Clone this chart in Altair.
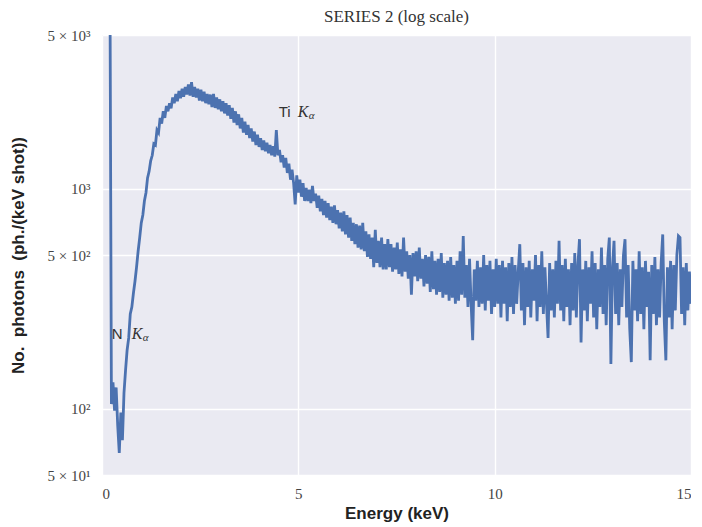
import altair as alt
import pandas as pd

# Spectrum, in 0.04 keV bins; each chunk holds 1 keV (25 bins)
chunk_starts = [0.20, 1.20, 2.20, 3.20, 4.20, 5.20, 6.20, 7.20, 8.20, 9.20, 10.20, 11.20, 12.20, 13.20, 14.20]

chunk_a = [12000, 105, 132, 98, 125, 84, 63, 96, 72, 118, 150, 185, 210, 270, 290,
           335, 380, 440, 520, 600, 700, 760, 880, 960, 1120]
chunk_b = [1200, 1340, 1420, 1600, 1580, 1850, 1800, 2100, 1980, 2250, 2100, 2380, 2250,
           2450, 2320, 2600, 2450, 2700, 2500, 2780, 2580, 2850, 2620, 2900, 2680]
chunk_c = [2980, 2650, 3050, 2620, 2900, 2600, 2850, 2520, 2820, 2500, 2760, 2450, 2700,
           2420, 2680, 2350, 2700, 2330, 2600, 2300, 2550, 2250, 2500, 2200, 2450]
chunk_d = [2150, 2400, 2080, 2330, 2000, 2250, 1950, 2180, 1880, 2100, 1800, 2020, 1760,
           1950, 1700, 1880, 1640, 1820, 1580, 1760, 1550, 1700, 1500, 1660, 1480]
chunk_e = [1620, 1450, 1580, 1420, 1560, 1400, 1850, 1420, 1500, 1320, 1420, 1250, 1380,
           1180, 1300, 1100, 1220, 1060, 850, 1150, 960, 1100, 920, 1060, 880]
chunk_f = [1010, 880, 990, 860, 1030, 880, 950, 820, 930, 790, 900, 760, 880,
           740, 860, 720, 830, 700, 840, 690, 800, 660, 780, 640, 790]
chunk_g = [620, 760, 600, 740, 580, 700, 560, 690, 540, 680, 530, 700, 520,
           640, 490, 620, 480, 600, 440, 650, 460, 580, 440, 600, 430]
chunk_h = [560, 430, 590, 440, 560, 420, 540, 430, 570, 410, 530, 400, 600,
           420, 520, 390, 500, 330, 510, 400, 520, 380, 540, 390, 480]
chunk_i = [360, 500, 370, 490, 340, 520, 350, 470, 330, 480, 340, 510, 320,
           460, 330, 470, 310, 490, 320, 450, 300, 470, 310, 520, 330]
chunk_j = [610, 320, 450, 290, 480, 300, 205, 430, 310, 470, 290, 440, 300,
           500, 280, 450, 310, 470, 270, 430, 290, 480, 300, 450, 260]
chunk_k = [470, 300, 440, 250, 460, 290, 490, 270, 450, 300, 420, 560, 280,
           460, 240, 440, 290, 470, 260, 430, 310, 500, 250, 450, 290]
chunk_l = [520, 270, 440, 300, 210, 460, 280, 430, 260, 470, 300, 580, 280,
           450, 250, 480, 290, 430, 240, 460, 280, 510, 260, 450, 590]
chunk_m = [200, 430, 280, 470, 250, 440, 300, 520, 260, 460, 230, 430, 290,
           540, 270, 450, 240, 480, 600, 160, 440, 580, 270, 460, 240]
chunk_n = [430, 290, 500, 590, 260, 450, 230, 163, 470, 280, 430, 250, 520,
           270, 440, 230, 470, 290, 420, 166, 450, 270, 490, 240, 430]
chunk_o = [260, 460, 620, 250, 166, 440, 260, 470, 230, 450, 280, 500, 610,
           600, 270, 440, 240, 460, 280, 420, 300]

chunks = [chunk_a, chunk_b, chunk_c, chunk_d, chunk_e, chunk_f, chunk_g, chunk_h,
          chunk_i, chunk_j, chunk_k, chunk_l, chunk_m, chunk_n, chunk_o]

bin_width = 0.04
energy, counts = [], []
for start, vals in zip(chunk_starts, chunks):
    for i, v in enumerate(vals):
        energy.append(round(start + bin_width * i, 2))
        counts.append(v)

df = pd.DataFrame({"energy": energy, "counts": counts})

# Annotations: element name, line symbol and subscript
ti_label = pd.DataFrame({"energy": [4.5], "counts": [2230], "elem": ["Ti"], "k": ["K"], "sub": ["α"]})
n_label = pd.DataFrame({"energy": [0.25], "counts": [219], "elem": ["N"], "k": ["K"], "sub": ["α"]})

y_ticks = [50, 100, 500, 1000, 5000]
x_ticks = [0, 5, 10, 15]

x_enc = alt.X("energy:Q", title="Energy\u00a0(keV)",
              scale=alt.Scale(domain=[0, 15], nice=False),
              axis=alt.Axis(values=x_ticks, labelPadding=11, titlePadding=4))
y_enc = alt.Y("counts:Q", title="No.\u00a0\u00a0photons\u00a0\u00a0(ph./(keV\u00a0shot))",
              scale=alt.Scale(type="log", domain=[50, 5000], nice=False),
              axis=alt.Axis(values=y_ticks, labelPadding=12, titlePadding=20,
                            labelExpr="datum.value == 5000 ? '5 × 10³' : datum.value == 1000 ? '10³' : datum.value == 500 ? '5 × 10²' : datum.value == 100 ? '10²' : '5 × 10¹'"))

line = alt.Chart(df).mark_line(color="#4C72B0", strokeWidth=2.8, clip=True).encode(
    x=x_enc, y=y_enc
)


def annotation(data, k_dx, sub_dx):
    elem = alt.Chart(data).mark_text(align="left", baseline="middle", fontSize=15,
                                     font="Liberation Sans", color="#333333").encode(
        x="energy:Q", y="counts:Q", text="elem:N")
    k = alt.Chart(data).mark_text(align="left", baseline="middle", fontSize=16, dx=k_dx,
                                  font="Liberation Serif", fontStyle="italic",
                                  color="#333333").encode(
        x="energy:Q", y="counts:Q", text="k:N")
    sub = alt.Chart(data).mark_text(align="left", baseline="middle", fontSize=11, dx=sub_dx, dy=4,
                                    font="Liberation Serif", fontStyle="italic",
                                    color="#333333").encode(
        x="energy:Q", y="counts:Q", text="sub:N")
    return [elem, k, sub]


layers = [line] + annotation(ti_label, 19, 30) + annotation(n_label, 20, 31)

chart = alt.layer(*layers).properties(
    width=589, height=440,
    padding={"left": 1, "top": 0, "right": 0, "bottom": 5},
    title=alt.TitleParams("SERIES 2 (log scale)", font="Liberation Serif", fontSize=17,
                          fontWeight="normal", color="#333333", offset=2)
).configure_view(
    fill="#EAEAF2", stroke="#EAEAF2", strokeWidth=0
).configure_axis(
    domain=False, ticks=False, grid=True, gridColor="#FFFFFF", gridWidth=1.4,
    labelFont="Liberation Serif", labelFontSize=15, labelColor="#444444",
    titleFont="Liberation Sans", titleFontSize=17, titleFontWeight="bold", titleColor="#222222"
)

chart.save("out.html", embed_options={"renderer": "svg", "actions": False})
